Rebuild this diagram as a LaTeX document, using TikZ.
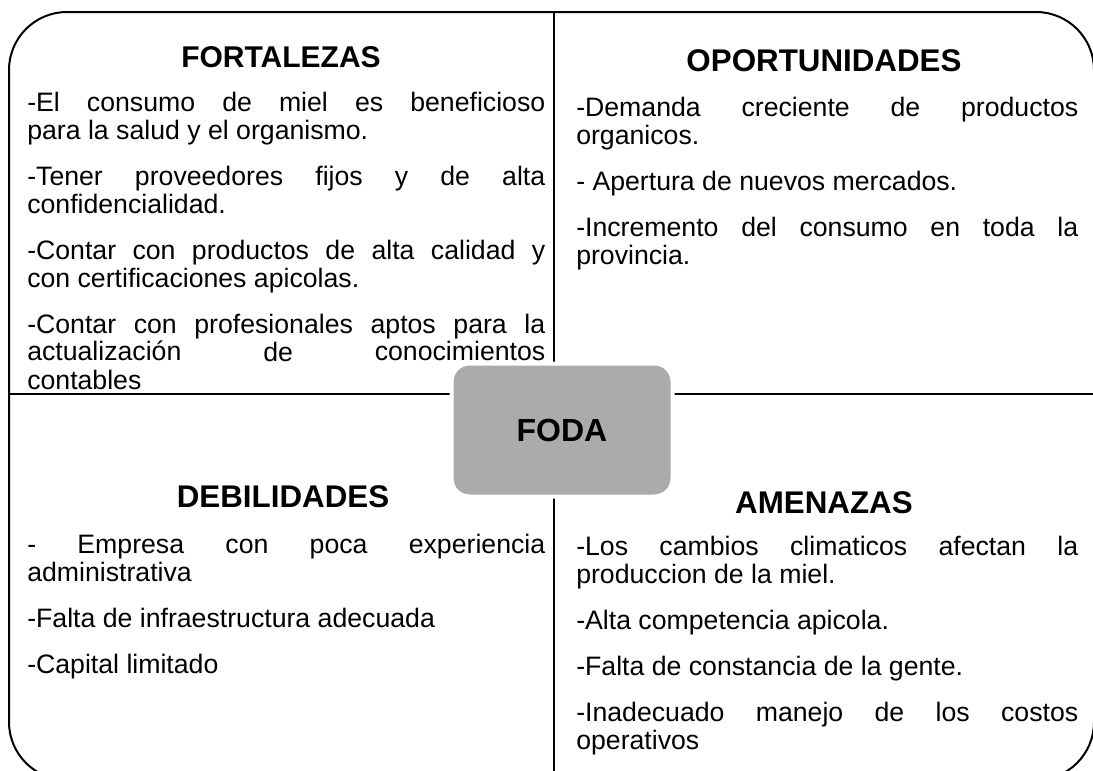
\documentclass[tikz,border=0pt]{standalone}
\usepackage{fontspec}
\setmainfont{Liberation Sans}
\definecolor{fodagray}{HTML}{ABABAB}
\newcommand{\quadsetup}{\tolerance=10000\hbadness=10000\hyphenpenalty=10000\exhyphenpenalty=10000\lineskiplimit=-\maxdimen\setlength{\parskip}{13.5pt}}

\begin{document}
\begin{tikzpicture}[x=0.75pt,y=-0.75pt,
    frameline/.style={line width=1.5pt},
    quadtitle/.style={inner sep=0pt,font=\fontsize{23.5}{27}\selectfont\bfseries},
    quadtext/.style={anchor=base west,inner sep=0pt,align=justify,font=\fontsize{20}{21}\selectfont},
    fodabox/.style={fill=fodagray,draw=white,line width=3pt,rounded corners=13.5pt,
      minimum width=165.75pt,minimum height=99.75pt,inner sep=0pt,
      font=\fontsize{24}{28}\selectfont\bfseries}]
  \useasboundingbox (0,0) rectangle (1093,771);
  \begin{scope}
    \clip (0,0) rectangle (1093,771);
    \draw[frameline,rounded corners=43.5pt] (9,12) rectangle (1094,780);
    \draw[frameline] (554,12) -- (554,780);
    \draw[frameline] (9,394) -- (1094,394);
  \end{scope}

  \node[fodabox] (foda) at (562,430) {FODA};

  \node[quadtitle,font=\fontsize{22.5}{27}\selectfont\bfseries] (tfort) at (281,57) {FORTALEZAS};
  \node[quadtitle] (topor) at (824,61) {OPORTUNIDADES};
  \node[quadtitle] (tdebi) at (283,497) {DEBILIDADES};
  \node[quadtitle] (tamen) at (824,503) {AMENAZAS};

  \node[quadtext,text width=388.5pt] (fort) at (27,111) {\quadsetup
    -El consumo de miel es beneficioso\linebreak para la salud y el organismo.\par
    -Tener proveedores fijos y de alta\linebreak confidencialidad.\par
    -Contar con productos de alta calidad y\linebreak con certificaciones apicolas.\par
    -Contar con profesionales aptos para la\linebreak actualización de conocimientos\linebreak contables};
  \node[quadtext,text width=376.5pt] (opor) at (576,116) {\quadsetup
    -Demanda creciente de productos\linebreak organicos.\par
    - Apertura de nuevos mercados.\par
    -Incremento del consumo en toda la\linebreak provincia.};
  \node[quadtext,text width=388.5pt] (debi) at (27,553) {\quadsetup
    - Empresa con poca experiencia\linebreak administrativa\par
    -Falta de infraestructura adecuada\par
    -Capital limitado};
  \node[quadtext,text width=376.5pt] (amen) at (576,555) {\quadsetup
    -Los cambios climaticos afectan la\linebreak produccion de la miel.\par
    -Alta competencia apicola.\par
    -Falta de constancia de la gente.\par
    -Inadecuado manejo de los costos\linebreak operativos};
\end{tikzpicture}
\end{document}
